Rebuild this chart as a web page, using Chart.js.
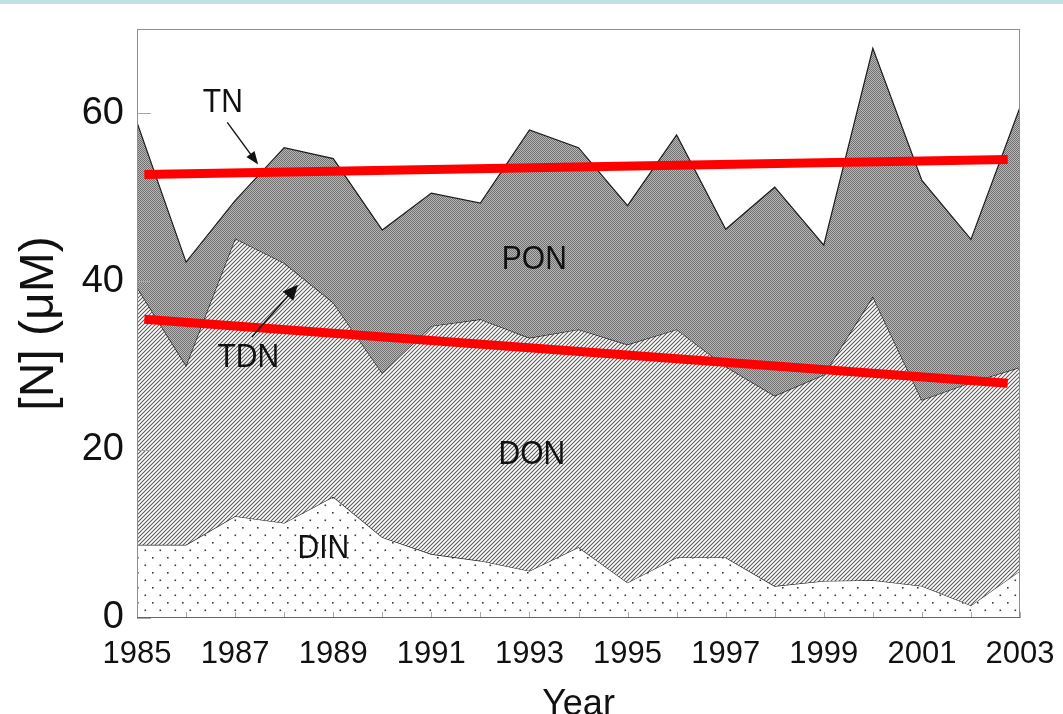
<!DOCTYPE html>
<html>
<head>
<meta charset="utf-8">
<script src="https://cdn.jsdelivr.net/npm/chart.js@4.4.0/dist/chart.umd.min.js"></script>
<style>
  html, body { margin: 0; padding: 0; background: #fff; }
  #wrap { position: relative; width: 1063px; height: 714px; }
  #band { position: absolute; left: 0; top: 0; width: 1063px; height: 4px; background: #bfe1e2; }
</style>
</head>
<body>
<div id="wrap">
  <canvas id="myChart" width="1063" height="714"></canvas>
  <div id="band"></div>
</div>
<script>
// values, [N] in uM
const years = [1985, 1986, 1987, 1988, 1989, 1990, 1991, 1992, 1993, 1994,
  1995, 1996, 1997, 1998, 1999, 2000, 2001, 2002, 2003]
const din = [8.7, 8.7, 12.1, 11.3, 14.4, 9.6, 7.6, 6.8, 5.6, 8.4,
  4.2, 7.2, 7.2, 3.8, 4.4, 4.5, 3.8, 1.5, 5.6]
const tdn = [39.3, 30.0, 45.1, 42.2, 37.5, 29.1, 34.7, 35.5, 33.3, 34.3,
  32.5, 34.3, 29.9, 26.4, 28.9, 38.2, 25.9, 28.0, 29.8]
const tn = [58.9, 42.3, 49.6, 55.9, 54.6, 46.1, 50.5, 49.3, 58.0, 55.9,
  49.0, 57.4, 46.2, 51.2, 44.3, 67.7, 52.0, 45.0, 60.7]

// fitted trend lines (end points)
const trendYears = [1985.15, 2002.75]
const tnTrend = [52.7, 54.5]
const tdnTrend = [35.5, 27.9]

const xTickLabels = [1985, 1987, 1989, 1991, 1993, 1995, 1997, 1999, 2001, 2003]
const yTickLabels = [0, 20, 40, 60]

// text labels placed in data units
const areaNames = ['PON', 'DON', 'DIN', 'TN', 'TDN']
const areaNameX = [1993.1, 1993.05, 1988.8, 1986.75, 1987.27]
const areaNameY = [42.6, 19.4, 8.2, 61.2, 30.9]
// arrows: [x0, y0, x1, y1] in data units
const arrowTN = [1986.84, 58.9, 1987.47, 53.9]
const arrowTDN = [1987.34, 33.4, 1988.28, 39.6]

const FONT = '"Liberation Sans", Arial, sans-serif'
const canvas = document.getElementById('myChart')
const ctx0 = canvas.getContext('2d')

function makePattern(w, h, paint) {
  const c = document.createElement('canvas')
  c.width = w; c.height = h
  paint(c.getContext('2d'), w, h)
  return ctx0.createPattern(c, 'repeat')
}

// PON: fine gray checker
const ponFill = makePattern(2, 2, (g) => {
  g.fillStyle = '#707070'; g.fillRect(0, 0, 2, 2)
  g.fillStyle = '#b8b8b8'; g.fillRect(1, 0, 1, 1); g.fillRect(0, 1, 1, 1)
})
// DON: diagonal hatch
const donFill = makePattern(4, 4, (g, w, h) => {
  g.fillStyle = '#fff'; g.fillRect(0, 0, w, h)
  g.strokeStyle = '#5a5a5a'; g.lineWidth = 1.05
  g.beginPath()
  g.moveTo(-1, 5); g.lineTo(5, -1)
  g.moveTo(-1, 1); g.lineTo(1, -1)
  g.moveTo(3, 5); g.lineTo(5, 3)
  g.stroke()
})
// DIN: sparse dots
const dinFill = makePattern(15, 15, (g, w, h) => {
  g.fillStyle = '#fff'; g.fillRect(0, 0, w, h)
  g.fillStyle = '#3a3a3a'
  g.fillRect(2, 2, 1.6, 1.6)
  g.fillRect(9.5, 9.5, 1.6, 1.6)
})

const pts = (arr) => years.map((yr, i) => ({ x: yr, y: arr[i] }))
const trendPts = (arr) => trendYears.map((yr, i) => ({ x: yr, y: arr[i] }))

const areaLine = { borderColor: '#1c1c1c', borderWidth: 1.2, pointRadius: 0, tension: 0 }

function arrow(ctx, x, y, a, head, hw) {
  const x0 = x.getPixelForValue(a[0]), y0 = y.getPixelForValue(a[1])
  const x1 = x.getPixelForValue(a[2]), y1 = y.getPixelForValue(a[3])
  const ang = Math.atan2(y1 - y0, x1 - x0)
  ctx.beginPath()
  ctx.moveTo(x0, y0)
  ctx.lineTo(x1 - Math.cos(ang) * head * 0.8, y1 - Math.sin(ang) * head * 0.8)
  ctx.stroke()
  ctx.beginPath()
  ctx.moveTo(x1, y1)
  ctx.lineTo(x1 - Math.cos(ang) * head + Math.sin(ang) * hw, y1 - Math.sin(ang) * head - Math.cos(ang) * hw)
  ctx.lineTo(x1 - Math.cos(ang) * head - Math.sin(ang) * hw, y1 - Math.sin(ang) * head + Math.cos(ang) * hw)
  ctx.closePath()
  ctx.fill()
}

const extras = {
  id: 'extras',
  afterDatasetsDraw(chart) {
    const { ctx, chartArea: a, scales: { x, y } } = chart
    ctx.save()
    // inward ticks
    ctx.strokeStyle = '#a8a8a8'
    ctx.lineWidth = 1
    years.forEach((v) => {
      const px = Math.round(x.getPixelForValue(v)) + 0.5
      ctx.beginPath(); ctx.moveTo(px, a.bottom); ctx.lineTo(px, a.bottom - 6); ctx.stroke()
    })
    yTickLabels.forEach((v) => {
      const py = Math.round(y.getPixelForValue(v)) + 0.5
      ctx.beginPath(); ctx.moveTo(a.left, py); ctx.lineTo(a.left + 14, py); ctx.stroke()
    })
    // frame
    ctx.strokeStyle = '#8e8e8e'
    ctx.strokeRect(a.left + 0.5, a.top + 0.5, a.width - 1, a.height - 1)
    ctx.strokeStyle = '#666'
    ctx.beginPath(); ctx.moveTo(a.left, a.bottom - 0.5); ctx.lineTo(a.right, a.bottom - 0.5); ctx.stroke()

    // area names (the figure's lettering is a little tall)
    ctx.fillStyle = '#111'
    ctx.font = '30px ' + FONT
    ctx.textAlign = 'center'
    ctx.textBaseline = 'middle'
    areaNames.forEach((t, i) => {
      ctx.save()
      ctx.translate(x.getPixelForValue(areaNameX[i]), y.getPixelForValue(areaNameY[i]))
      ctx.scale(1, 1.12)
      ctx.fillText(t, 0, 0)
      ctx.restore()
    })
    // arrows
    ctx.strokeStyle = '#111'
    ctx.lineWidth = 1.4
    arrow(ctx, x, y, arrowTN, 13, 5)
    arrow(ctx, x, y, arrowTDN, 15, 7)
    ctx.restore()
  }
}

const config = {
  type: 'line',
  data: {
    datasets: [
      { label: 'TN trend', data: trendPts(tnTrend), borderColor: '#ff0000', borderWidth: 9,
        pointRadius: 0, fill: false, borderCapStyle: 'butt' },
      { label: 'TDN trend', data: trendPts(tdnTrend), borderColor: '#ff0000', borderWidth: 9,
        pointRadius: 0, fill: false, borderCapStyle: 'butt' },
      { label: 'TN', data: pts(tn), backgroundColor: ponFill, fill: '+1', ...areaLine },
      { label: 'TDN', data: pts(tdn), backgroundColor: donFill, fill: '+1', ...areaLine },
      { label: 'DIN', data: pts(din), backgroundColor: dinFill, fill: 'origin', ...areaLine }
    ]
  },
  options: {
    responsive: false,
    animation: false,
    devicePixelRatio: 1,
    layout: { padding: { top: 29, right: 43, left: 0, bottom: 0 } },
    plugins: { legend: { display: false }, tooltip: { enabled: false } },
    scales: {
      x: {
        type: 'linear',
        min: 1985,
        max: 2003,
        grid: { display: false, drawTicks: false },
        border: { display: false },
        afterBuildTicks: (s) => { s.ticks = xTickLabels.map((v) => ({ value: v })) },
        afterFit: (s) => { s.height = 96; s.paddingLeft = 0; s.paddingRight = 0 },
        ticks: {
          autoSkip: false,
          maxRotation: 0,
          padding: 18,
          color: '#111',
          font: { family: FONT, size: 31 },
          callback: (v) => String(v)
        },
        title: {
          display: true,
          text: 'Year',
          color: '#111',
          font: { family: FONT, size: 36, lineHeight: 0.5 },
          padding: 0
        }
      },
      y: {
        min: 0,
        max: 70,
        grid: { display: false, drawTicks: false },
        border: { display: false },
        afterBuildTicks: (s) => { s.ticks = yTickLabels.map((v) => ({ value: v })) },
        afterFit: (s) => { s.width = 137; s.paddingTop = 0; s.paddingBottom = 0 },
        ticks: {
          padding: 13,
          color: '#111',
          font: { family: FONT, size: 38 }
        },
        title: {
          display: true,
          text: '[N] (\u03bcM)',
          color: '#111',
          font: { family: FONT, size: 48, lineHeight: 1 },
          padding: { top: 16, bottom: 0 }
        }
      }
    }
  },
  plugins: [extras]
}

const myChart = new Chart(canvas, config)
</script>
</body>
</html>
